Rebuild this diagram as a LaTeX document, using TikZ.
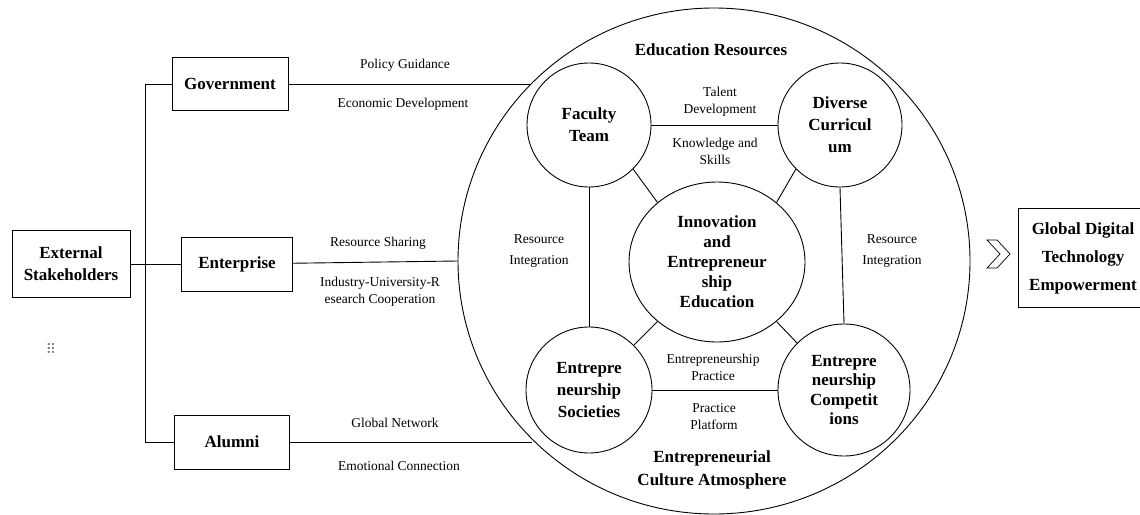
\documentclass[tikz,border=0pt]{standalone}
\usepackage{fontspec}
\setmainfont{Liberation Serif}
\newfontfamily\dotsfont{DejaVu Sans}
\usetikzlibrary{shapes.geometric}

\begin{document}
\begin{tikzpicture}[x=1pt,y=-1pt,line width=0.9pt,
  box/.style={draw,inner sep=0pt,align=center,font=\fontsize{17}{22}\selectfont\bfseries},
  hub/.style={draw,circle,inner sep=0pt,align=center,font=\fontsize{17}{22}\selectfont\bfseries},
  lbl/.style={inner sep=1pt,align=center,font=\fontsize{13.5}{17}\selectfont},
  head/.style={inner sep=1pt,align=center,font=\fontsize{17}{23}\selectfont\bfseries}]
  \useasboundingbox (0,0) rectangle (1140,514);

  % stakeholders on the left
  \node[box,minimum width=118,minimum height=67] (ext) at (71,264) {External\\Stakeholders};
  \node[box,minimum width=116,minimum height=53] (gov) at (230,84) {Government};
  \node[box,minimum width=111,minimum height=54] (ent) at (237,264) {Enterprise};
  \node[box,minimum width=115,minimum height=54] (alu) at (232,442) {Alumni};
  \node[text=gray,font=\dotsfont\fontsize{14}{14}\selectfont] (dots) at (51,349) {⠿};

  \coordinate (jtop) at (145,84);
  \coordinate (jbot) at (145,442);
  \draw (gov.west) -- (jtop) -- (jbot) -- (alu.west);
  \draw (ext) -- (ent);

  % the outer ring
  \node[draw,ellipse,minimum width=512,minimum height=506] (ring) at (714,261) {};
  \coordinate (govin) at (531,84);
  \coordinate (aluin) at (532,442);
  \draw (gov) -- (govin);
  \draw (ent) -- (ring.west);
  \draw (alu) -- (aluin);

  \node[lbl] (pg) at (405,65) {Policy Guidance};
  \node[lbl] (ed) at (403,104) {Economic Development};
  \node[lbl] (rs) at (378,243) {Resource Sharing};
  \node[lbl] (iu) at (380,292) {Industry-University-R\\esearch Cooperation};
  \node[lbl] (gn) at (395,423) {Global Network};
  \node[lbl] (ec) at (399,466) {Emotional Connection};

  % circles inside
  \node[draw,ellipse,inner sep=0pt,minimum width=176,minimum height=160,align=center,
    font=\fontsize{17}{20}\selectfont\bfseries] (core) at (717,262)
    {Innovation\\and\\Entrepreneur\\ship\\Education};
  \node[hub,minimum size=124] (faculty) at (589,125) {Faculty\\Team};
  \node[hub,minimum size=124] (diverse) at (840,125) {Diverse\\Curricul\\um};
  \node[hub,minimum size=126] (soc) at (589,390) {Entrepre\\neurship\\Societies};
  \node[hub,minimum size=132,font=\fontsize{17}{19.5}\selectfont\bfseries] (comp) at (844,390) {Entrepre\\neurship\\Competit\\ions};

  \draw (faculty) -- (diverse);
  \draw (soc) -- (comp);
  \draw (faculty.south) -- (soc.north);
  \draw (diverse.south) -- (comp.north);
  \draw (faculty.-45) -- (core.135);
  \draw (diverse.-135) -- (core.45);
  \draw (soc.45) -- (core.-135);
  \draw (comp.135) -- (core.-45);

  \node[head] (edres) at (711,50) {Education Resources};
  \node[head] (culture) at (712,470) {Entrepreneurial\\Culture Atmosphere};
  \node[lbl] (td) at (720,102) {Talent\\Development};
  \node[lbl] (ks) at (715,151) {Knowledge and\\Skills};
  \node[lbl,font=\fontsize{13.5}{21}\selectfont] (rileft) at (539,251) {Resource\\Integration};
  \node[lbl,font=\fontsize{13.5}{21}\selectfont] (riright) at (892,251) {Resource\\Integration};
  \node[lbl] (ep) at (713,367) {Entrepreneurship\\Practice};
  \node[lbl] (pp) at (714,417) {Practice\\Platform};

  % outcome on the right
  \draw[line width=0.7pt] (987,240) -- (997,240) -- (1010,254) -- (997,268) -- (987,268) -- (1000,254) -- cycle;
  \node[box,minimum width=130,minimum height=99,font=\fontsize{17}{28}\selectfont\bfseries] (glob) at (1083,258) {Global Digital\\Technology\\Empowerment};
\end{tikzpicture}
\end{document}
